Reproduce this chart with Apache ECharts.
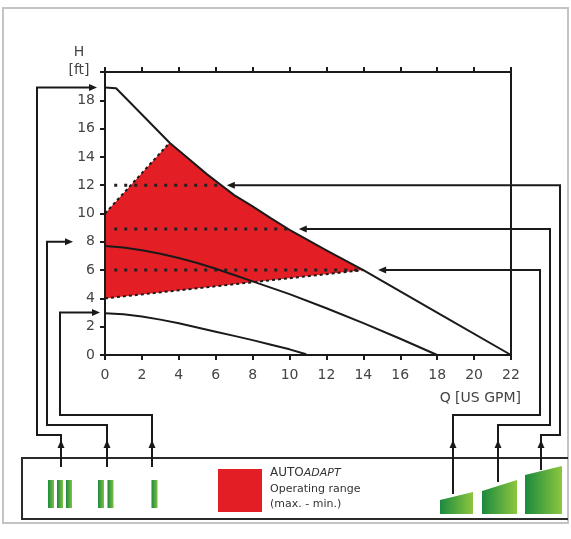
<!DOCTYPE html>
<html><head><meta charset="utf-8">
<script src="https://cdn.jsdelivr.net/npm/echarts@6/dist/echarts.min.js"></script>
<style>html,body{margin:0;padding:0;background:#fff}#c{width:571px;height:539px}</style>
</head><body><div id="c"></div>
<script>
// ---- data (Q in US GPM, H in ft) ----
const maxQ = [0, 0.6, 2, 3.5, 4.5, 5.5, 6.2, 7, 8, 9, 10, 12, 14, 18, 22];
const maxH = [18.9, 18.85, 17.0, 15.0, 13.9, 12.8, 12.1, 11.3, 10.5, 9.65, 8.85, 7.4, 6.0, 3.0, 0];
const midQ = [0, 1, 2, 3, 4, 5, 6, 7, 8, 10, 12, 14, 16, 18];
const midH = [7.7, 7.6, 7.4, 7.15, 6.85, 6.5, 6.1, 5.65, 5.2, 4.3, 3.3, 2.25, 1.15, 0];
const minQ = [0, 1, 2, 3, 4, 5, 6, 7, 8, 9, 10, 10.9];
const minH = [2.95, 2.88, 2.72, 2.5, 2.25, 1.95, 1.65, 1.35, 1.05, 0.72, 0.4, 0.05];
// AUTOADAPT operating range boundaries
const rangeUpperQ = [0, 3.5];
const rangeUpperH = [10, 15];
const rangeLowerQ = [0, 14];
const rangeLowerH = [4, 6];
// set points (dotted lines) and the arrows pointing to them
const setLevels = [12, 8.9, 6];
const setStartQ = [0.5, 0.5, 0.5];
const setEndQ = [6.2, 9.9, 14.0];
const setArrowTipQ = [6.6, 10.5, 14.8];
// constant speed settings III, II, I
const speedLevels = [18.9, 8, 3];
const speedNames = ['III', 'II', 'I'];
// axis ticks
const qMin = 0, qMax = 22, qStep = 2;
const hMin = 0, hMax = 20, hStep = 2;
const hLabelHidden = [20];

const zip = (a, b) => a.map((v, i) => [v, b[i]]);

// red polygon: upper-left boundary, max curve segment, lower boundary
const poly = [];
zip(rangeUpperQ, rangeUpperH).forEach(p => poly.push(p));
zip(maxQ, maxH).forEach(p => { if (p[0] > rangeUpperQ[1] && p[0] < rangeLowerQ[1]) poly.push(p); });
poly.push([rangeLowerQ[1], rangeLowerH[1]]);
poly.push([rangeLowerQ[0], rangeLowerH[0]]);

const FONT = 'DejaVu Sans';
const INK = '#1a1a1a';
const TXT = '#444';

const chart = echarts.init(document.getElementById('c'), null, {renderer: 'canvas'});

const axisCommon = {
  type: 'value', min: qMin, max: qMax, interval: qStep, z: 10,
  axisLine: {show: true, onZero: false, lineStyle: {color: INK, width: 2}},
  axisTick: {show: true, inside: false, length: 5, lineStyle: {color: INK, width: 2}},
  splitLine: {show: false}
};

const series = [
  {
    type: 'custom', xAxisIndex: 0, yAxisIndex: 0, z: 1, silent: true,
    data: [[0, 0]],
    renderItem: (params, api) => ({
      type: 'polygon',
      shape: {points: poly.map(p => api.coord(p))},
      style: {fill: '#e31e24'}
    })
  }
];
setLevels.forEach((lv, i) => {
  series.push({
    type: 'line', symbol: 'none', z: 3, silent: true,
    data: [[setStartQ[i], lv], [setEndQ[i], lv]],
    lineStyle: {color: '#222', width: 3, type: [3, 7], cap: 'butt'}
  });
});
series.push(
  {type: 'line', symbol: 'none', z: 4, data: zip(rangeUpperQ, rangeUpperH),
   lineStyle: {color: INK, width: 2, type: [3, 3]}},
  {type: 'line', symbol: 'none', z: 4, data: zip(rangeLowerQ, rangeLowerH),
   lineStyle: {color: INK, width: 2, type: [3, 3]}},
  {type: 'line', symbol: 'none', z: 5, data: zip(maxQ, maxH),
   lineStyle: {color: INK, width: 2, join: 'round'}},
  {type: 'line', symbol: 'none', z: 5, data: zip(midQ, midH),
   lineStyle: {color: INK, width: 2, join: 'round'}},
  {type: 'line', symbol: 'none', z: 5, data: zip(minQ, minH),
   lineStyle: {color: INK, width: 2, join: 'round'}}
);

chart.setOption({
  animation: false,
  backgroundColor: '#fff',
  grid: {left: 105, right: 60, top: 72, bottom: 184, containLabel: false},
  xAxis: [
    Object.assign({}, axisCommon, {position: 'bottom',
      axisLabel: {margin: 13, fontSize: 14, color: TXT, fontFamily: FONT}}),
    Object.assign({}, axisCommon, {position: 'top', axisLabel: {show: false}})
  ],
  yAxis: [
    Object.assign({}, axisCommon, {position: 'left', min: hMin, max: hMax, interval: hStep,
      axisLabel: {margin: 10, fontSize: 14, color: TXT, fontFamily: FONT,
        formatter: v => hLabelHidden.includes(v) ? '' : String(v)}}),
    Object.assign({}, axisCommon, {position: 'right', min: hMin, max: hMax, interval: hStep,
      axisTick: {show: false}, axisLabel: {show: false}})
  ],
  series: series
});

// ---- annotations: frame, selector box, connectors ----
const P = (q, h) => chart.convertToPixel({xAxisIndex: 0, yAxisIndex: 0}, [q, h]);
const g = [];
const line = (pts, w, c) => g.push({type: 'polyline', silent: true, z: 50,
  shape: {points: pts}, style: {stroke: c || INK, lineWidth: w || 2, fill: null}});
const head = (x, y, dir) => {
  const L = 8, W = 3.5;
  let pts;
  if (dir === 'right') pts = [[x, y], [x - L, y - W], [x - L, y + W]];
  else if (dir === 'left') pts = [[x, y], [x + L, y - W], [x + L, y + W]];
  else pts = [[x, y], [x - W, y + L], [x + W, y + L]];
  g.push({type: 'polygon', silent: true, z: 51, shape: {points: pts}, style: {fill: INK}});
};

// outer frame
g.push({type: 'rect', silent: true, z: 40, shape: {x: 3, y: 8, width: 565, height: 515},
  style: {stroke: '#c4c4c4', lineWidth: 2, fill: null}});
// selector box
line([[568, 458], [22, 458], [22, 519], [568, 519]], 2, '#2a2a2a');

// left connectors (speed III, II, I)
const leftRoute = [
  {x0: 61, yc: 435, xv: 37, tip: 97},
  {x0: 107, yc: 425, xv: 47, tip: 73},
  {x0: 152, yc: 415, xv: 60, tip: 100}
];
leftRoute.forEach((r, i) => {
  const y = P(0, speedLevels[i])[1];
  line([[r.x0, 467], [r.x0, r.yc], [r.xv, r.yc], [r.xv, y], [r.tip - 4, y]]);
  head(r.tip, y, 'right');
  head(r.x0, 440, 'up');
});
// right connectors (set points small, medium, large)
const rightRoute = [
  {x0: 453, y0: 494, yc: 415, xv: 540, lvl: 2},
  {x0: 498, y0: 482, yc: 425, xv: 550, lvl: 1},
  {x0: 541, y0: 470, yc: 435, xv: 560, lvl: 0}
];
rightRoute.forEach(r => {
  const tip = P(setArrowTipQ[r.lvl], setLevels[r.lvl]);
  line([[r.x0, r.y0], [r.x0, r.yc], [r.xv, r.yc], [r.xv, tip[1]], [tip[0] + 4, tip[1]]]);
  head(tip[0], tip[1], 'left');
  head(r.x0, 440, 'up');
});

// speed bars
const barGrad = {type: 'linear', x: 0, y: 0, x2: 1, y2: 0,
  colorStops: [{offset: 0, color: '#1f8a3c'}, {offset: 1, color: '#7dc143'}]};
[[48, 57, 66], [98, 107.5], [151.5]].forEach(grp => grp.forEach(x => {
  g.push({type: 'rect', silent: true, z: 45, shape: {x: x, y: 480, width: 6, height: 28},
    style: {fill: barGrad}});
}));
// ramps
const rampGrad = {type: 'linear', x: 0, y: 0, x2: 1, y2: 0,
  colorStops: [{offset: 0, color: '#1b8a3e'}, {offset: 1, color: '#8dc63f'}]};
[[440, 473, 500, 492], [482, 517, 491, 480], [525, 562, 475, 466]].forEach(r => {
  g.push({type: 'polygon', silent: true, z: 45,
    shape: {points: [[r[0], 514], [r[0], r[2]], [r[1], r[3]], [r[1], 514]]},
    style: {fill: rampGrad}});
});
// legend square and text
g.push({type: 'rect', silent: true, z: 45, shape: {x: 218, y: 469, width: 44, height: 43},
  style: {fill: '#e31e24'}});
g.push({type: 'text', silent: true, z: 45, x: 270, y: 467, style: {
  text: '{a|AUTO}{b|ADAPT}', fill: '#333',
  rich: {a: {fontFamily: FONT, fontSize: 12, fill: '#333'},
         b: {fontFamily: FONT, fontSize: 11, fontStyle: 'italic', fill: '#333'}}}});
g.push({type: 'text', silent: true, z: 45, x: 270, y: 484, style: {
  text: 'Operating range', fontFamily: FONT, fontSize: 11, fill: '#333'}});
g.push({type: 'text', silent: true, z: 45, x: 270, y: 499, style: {
  text: '(max. - min.)', fontFamily: FONT, fontSize: 11, fill: '#333'}});
// axis names
g.push({type: 'text', silent: true, z: 45, x: 79, y: 52, style: {
  text: 'H', fontFamily: FONT, fontSize: 14, fill: TXT, align: 'center', verticalAlign: 'middle'}});
g.push({type: 'text', silent: true, z: 45, x: 79, y: 70, style: {
  text: '[ft]', fontFamily: FONT, fontSize: 14, fill: TXT, align: 'center', verticalAlign: 'middle'}});
g.push({type: 'text', silent: true, z: 45, x: 521, y: 398, style: {
  text: 'Q [US GPM]', fontFamily: FONT, fontSize: 14, fill: TXT, align: 'right', verticalAlign: 'middle'}});

chart.setOption({graphic: g});
</script></body></html>
